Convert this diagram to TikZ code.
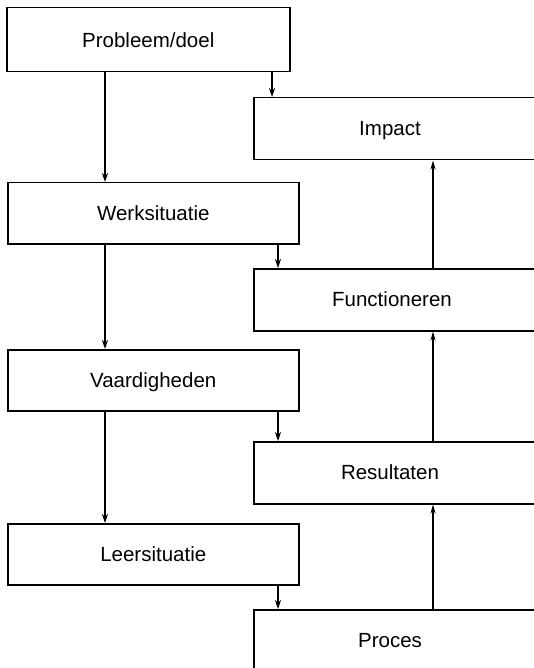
\documentclass[tikz,border=0pt]{standalone}
\usepackage{fontspec}
\setmainfont{Liberation Sans}
\usetikzlibrary{arrows.meta}
\begin{document}
\begin{tikzpicture}[x=1pt,y=-1pt,
  box/.style={draw, line width=1.5pt, inner sep=0pt, anchor=north west},
  lbl/.style={font=\fontsize{20.5}{24}\selectfont, inner sep=0pt,
              text height=14.8pt, text depth=0pt},
  flow/.style={line width=1.8pt, -{Stealth[length=9pt,width=6pt]}},
  feed/.style={line width=1.1pt, -{Stealth[length=9pt,width=6pt]}},
  rise/.style={line width=2pt, -{Stealth[length=9pt,width=5pt]}}]
\useasboundingbox (0,0) rectangle (534,668);
\fill[white] (0,0) rectangle (534,668);
\clip (0,0) rectangle (534,668);

% x positions of the connector columns
\coordinate (lx) at (105,0);
\coordinate (px) at (272,0);
\coordinate (dx) at (278,0);
\coordinate (ux) at (433,0);

% left column: analysis
\node[box, minimum width=283pt, minimum height=64pt] (pd) at (6,7) {};
\node[lbl] (pd-t) at (pd.center) {Probleem/doel};
\node[box, minimum width=291pt, minimum height=61pt] (ws) at (7,182) {};
\node[lbl] (ws-t) at (ws.center) {Werksituatie};
\node[box, minimum width=291pt, minimum height=61pt] (vh) at (7,349) {};
\node[lbl] (vh-t) at (vh.center) {Vaardigheden};
\node[box, minimum width=291pt, minimum height=61pt] (ls) at (7,523) {};
\node[lbl] (ls-t) at (ls.center) {Leersituatie};

% right column: evaluation levels
\node[box, minimum width=320pt, minimum height=62pt] (im) at (253,97) {};
\node[lbl] (im-t) at (390,128) {Impact};
\node[box, minimum width=320pt, minimum height=62pt] (fn) at (253,268) {};
\node[lbl] (fn-t) at (392,299) {Functioneren};
\node[box, minimum width=320pt, minimum height=62pt] (rs) at (253,441) {};
\node[lbl] (rs-t) at (390,472) {Resultaten};
\node[box, minimum width=320pt, minimum height=62pt] (pr) at (253,609) {};
\node[lbl] (pr-t) at (390,640) {Proces};

% downward chain on the left
\draw[flow] (pd.south -| lx) -- (ws.north -| lx);
\draw[flow] (ws.south -| lx) -- (vh.north -| lx);
\draw[flow] (vh.south -| lx) -- (ls.north -| lx);

% each analysis step feeds its evaluation level
\draw[feed] (pd.south -| px) -- (im.north -| px);
\draw[feed] (ws.south -| dx) -- (fn.north -| dx);
\draw[feed] (vh.south -| dx) -- (rs.north -| dx);
\draw[feed] (ls.south -| dx) -- (pr.north -| dx);

% upward chain on the right
\draw[rise] (pr.north -| ux) -- (rs.south -| ux);
\draw[rise] (rs.north -| ux) -- (fn.south -| ux);
\draw[rise] (fn.north -| ux) -- (im.south -| ux);
\end{tikzpicture}
\end{document}
